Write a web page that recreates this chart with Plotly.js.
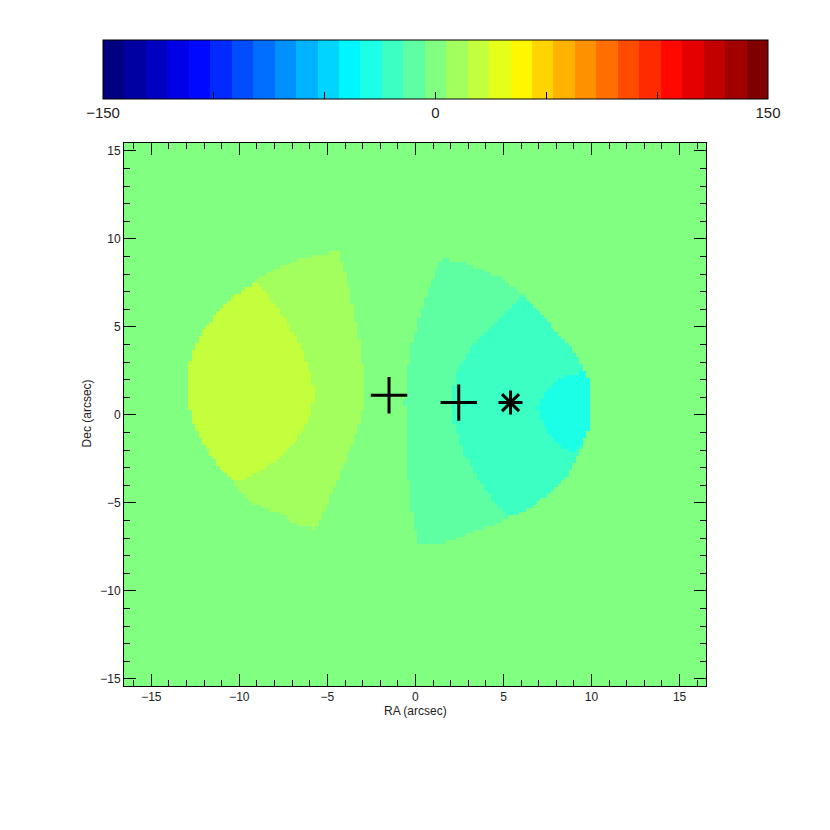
<!DOCTYPE html>
<html>
<head>
<meta charset="utf-8">
<script src="https://cdn.plot.ly/plotly-3.0.1.min.js"></script>
<style>html,body{margin:0;padding:0;background:#fff;}#plot{width:830px;height:830px;}</style>
</head>
<body>
<div id="plot"></div>
<script>
// ---- Data (RA/Dec in arcsec, velocity in km/s) ----
const velBackground = 0;
// Left lobe, outer shell (band +10)
const leftOuterRA  = [-9.13,-8.66,-7.71,-6.39,-5.06,-4.40,-4.11,-3.83,-3.58,-3.26,-3.01,-2.98,-2.88,-2.94,-3.16,-3.64,-4.20,-4.87,-5.63,-6.76,-7.71,-9.23,-10.17,-10.27,-10.84,-11.50,-12.16,-12.64,-12.82,-13.01,-12.73,-12.26,-11.69,-10.93,-9.89];
const leftOuterDec = [7.56,7.94,8.41,8.89,9.17,9.36,8.41,7.47,6.13,4.63,3.30,2.35,1.02,0.65,-0.30,-1.82,-3.14,-4.75,-6.45,-6.17,-5.60,-5.03,-4.18,-3.81,-3.33,-2.39,-1.44,-0.49,0.45,2.35,3.30,4.43,5.28,6.14,7.09];
const leftOuterVel = 10;
// Left lobe, inner core (band +20)
const leftInnerRA  = [-9.13,-9.89,-10.93,-11.69,-12.26,-12.73,-13.01,-12.82,-12.64,-12.16,-11.50,-10.84,-10.27,-9.03,-7.90,-6.76,-6.01,-5.72,-5.82,-6.39,-7.33,-8.28];
const leftInnerDec = [7.56,7.09,6.14,5.28,4.43,3.30,2.35,0.45,-0.49,-1.44,-2.39,-3.33,-3.81,-3.33,-2.57,-1.44,-0.11,1.02,1.97,3.68,5.38,6.70];
const leftInnerVel = 20;
// Right lobe, outer shell (band -10)
const rightOuterRA  = [1.48,2.90,4.79,6.21,7.63,8.95,9.62,9.90,10.0,9.81,9.34,8.58,7.63,6.31,5.36,4.03,2.52,1.38,0.15,-0.04,-0.32,-0.51,-0.61,-0.32,0.24,0.81,1.19];
const rightOuterDec = [8.89,8.60,7.84,6.80,5.19,3.68,2.54,1.78,-0.11,-0.87,-2.01,-3.52,-4.47,-5.41,-5.80,-6.36,-6.93,-7.31,-7.31,-6.17,-4.85,-2.01,0.84,3.68,5.57,7.27,8.22];
const rightOuterVel = -10;
// Right lobe, middle shell (band -20)
const rightMidRA  = [6.21,5.17,4.03,3.09,2.33,2.05,2.23,2.70,3.47,4.41,5.36,6.31,7.63,8.58,9.34,9.81,10.0,9.90,9.62,8.95,7.63];
const rightMidDec = [6.80,5.95,4.81,3.68,2.35,0.84,-0.68,-2.01,-3.52,-4.85,-5.80,-5.41,-4.47,-3.52,-2.01,-0.87,-0.11,1.78,2.54,3.68,5.19];
const rightMidVel = -20;
// Right lobe, inner cap (band -30)
const rightInnerRA  = [9.62,8.58,7.82,7.25,6.97,7.16,7.63,8.39,9.05,9.43,9.81,10.0,9.90];
const rightInnerDec = [2.44,2.26,1.78,1.02,0.45,-0.30,-1.06,-1.82,-2.19,-1.63,-0.87,-0.11,1.78];
const rightInnerVel = -30;
// Markers
const plusRA  = [-1.50, 2.46];
const plusDec = [1.12, 0.70];
const starRA  = [5.40];
const starDec = [0.70];
// Colour bar
const velMin = -150, velMax = 150, nLevels = 31;
const cbTickVals = [-150,-100,-50,0,50,100,150];
const cbTickText = ['\u2212150','','','0','','','150'];
const axisTicks = [-15,-10,-5,0,5,10,15];
const xTitle = 'RA (arcsec)';
const yTitle = 'Dec (arcsec)';

// ---- Build the image grid from the region outlines ----
function inPoly(x, y, px, py) {
  let inside = false;
  for (let i = 0, j = px.length - 1; i < px.length; j = i++) {
    if (((py[i] > y) !== (py[j] > y)) &&
        (x < (px[j] - px[i]) * (y - py[i]) / (py[j] - py[i]) + px[i])) inside = !inside;
  }
  return inside;
}
const regions = [
  [leftOuterRA, leftOuterDec, leftOuterVel],
  [leftInnerRA, leftInnerDec, leftInnerVel],
  [rightOuterRA, rightOuterDec, rightOuterVel],
  [rightMidRA, rightMidDec, rightMidVel],
  [rightInnerRA, rightInnerDec, rightInnerVel]
];
const step = 0.2;
const gx = [], gy = [];
for (let x = -16.6; x <= 16.61; x += step) gx.push(+x.toFixed(2));
for (let y = -15.6; y <= 15.61; y += step) gy.push(+y.toFixed(2));
const z = gy.map(y => gx.map(x => {
  let v = velBackground;
  for (const [rx, ry, rv] of regions) if (inPoly(x, y, rx, ry)) v = rv;
  return v;
}));

// ---- Discrete jet colour scale ----
function jet(t) {
  const c = v => Math.round(255 * Math.max(0, Math.min(1, v)));
  return `rgb(${c(1.5 - Math.abs(4*t - 3))},${c(1.5 - Math.abs(4*t - 2))},${c(1.5 - Math.abs(4*t - 1))})`;
}
const colorscale = [];
for (let i = 0; i < nLevels; i++) {
  const col = jet(i / (nLevels - 1));
  colorscale.push([i / nLevels, col]);
  colorscale.push([(i + 1) / nLevels, col]);
}

const font = {family: 'Liberation Sans, Arial, sans-serif', color: '#222'};

const traces = [
  {
    type: 'heatmap', x: gx, y: gy, z: z, zmin: velMin, zmax: velMax,
    colorscale: colorscale, zsmooth: false, hoverinfo: 'skip',
    colorbar: {
      orientation: 'h', x: 0.5353, xanchor: 'center', y: 1.026, yanchor: 'bottom',
      len: 665, lenmode: 'pixels', thickness: 59, thicknessmode: 'pixels',
      xpad: 0, ypad: 0, outlinewidth: 1, outlinecolor: '#000',
      tickmode: 'array', tickvals: cbTickVals, ticktext: cbTickText,
      ticks: 'inside', ticklen: 7, tickcolor: '#000', tickwidth: 1,
      tickfont: Object.assign({size: 15}, font)
    }
  },
  {
    type: 'scatter', mode: 'markers', x: plusRA, y: plusDec, hoverinfo: 'skip',
    marker: {symbol: 'cross-thin-open', size: 26, color: '#000', line: {width: 3, color: '#000'}}
  },
  {
    type: 'scatter', mode: 'markers', x: starRA, y: starDec, hoverinfo: 'skip',
    marker: {symbol: 'asterisk-open', size: 20, color: '#000', line: {width: 3, color: '#000'}}
  }
];

const axisCommon = {
  showgrid: false, zeroline: false, showline: true, linecolor: '#000', linewidth: 1,
  mirror: 'ticks', ticks: 'inside', ticklen: 12, tickcolor: '#000', tickwidth: 1,
  tickmode: 'array', tickvals: axisTicks,
  minor: {dtick: 1, ticks: 'inside', ticklen: 6, tickcolor: '#000', tickwidth: 1},
  tickfont: Object.assign({size: 12}, font)
};

const layout = {
  width: 830, height: 830,
  margin: {l: 124, r: 124, t: 143, b: 144, autoexpand: false},
  paper_bgcolor: '#fff', plot_bgcolor: '#fff',
  showlegend: false,
  xaxis: Object.assign({}, axisCommon, {range: [-16.55, 16.5]}),
  yaxis: Object.assign({}, axisCommon, {range: [-15.4, 15.45]}),
  annotations: [
    {text: xTitle, xref: 'paper', yref: 'paper', x: 0.5, y: -0.046,
     xanchor: 'center', yanchor: 'middle', showarrow: false, font: Object.assign({size: 12}, font)},
    {text: yTitle, xref: 'paper', yref: 'paper', x: -0.0636, y: 0.502, textangle: -90,
     xanchor: 'center', yanchor: 'middle', showarrow: false, font: Object.assign({size: 12}, font)}
  ]
};

Plotly.newPlot('plot', traces, layout, {staticPlot: true, displayModeBar: false});
</script>
</body>
</html>
